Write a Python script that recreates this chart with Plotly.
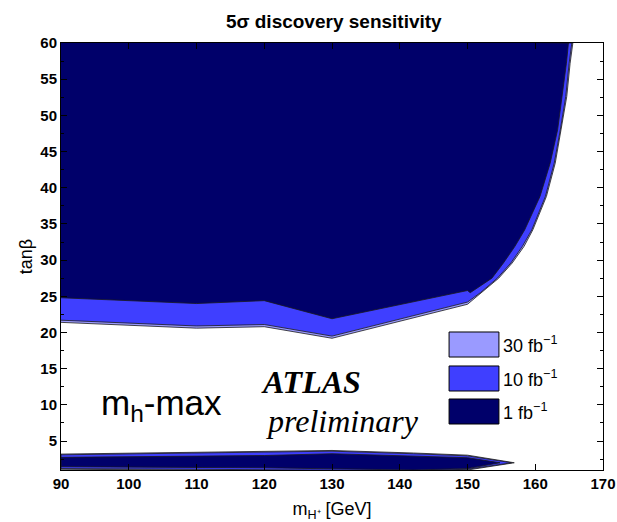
import plotly.graph_objects as go

# Charged Higgs mass nodes [GeV] and tan(beta) contours for each luminosity
# --- high tan(beta) region: lower edge along the mass nodes, then the rising edge to the top
lower_mass = [90, 110, 120, 130, 150]
curve_tanb = [25.5, 27.5, 29.6, 31.9, 34.2, 38.8, 43.4, 48.0, 52.6, 57.2, 60.0]

high_lower_1fb = [24.8, 24.0, 24.4, 21.9, 25.8]
high_curve_1fb = [150.4, 153.6, 155.3, 157.0, 158.45, 160.7, 162.2, 163.3, 164.0, 164.6, 164.9]

high_lower_10fb = [21.7, 20.9, 21.1, 19.5, 24.2]
high_curve_10fb = [151.9, 154.4, 156.4, 158.1, 159.5, 161.5, 162.8, 163.7, 164.5, 165.0, 165.4]

high_lower_30fb = [21.4, 20.6, 20.8, 19.2, 23.9]
high_curve_30fb = [152.1, 154.6, 156.6, 158.35, 159.65, 161.65, 162.95, 163.85, 164.65, 165.15, 165.55]

# --- low tan(beta) strip: upper and lower edges at the mass nodes, closing at a tip
strip_mass = [90, 110, 120, 130, 142, 150]
strip_upper_1fb = [2.75, 2.95, 3.0, 3.25, 2.95, 2.7]
strip_lower_1fb = [1.45, 1.35, 1.3, 1.2, 1.0, 1.2]
strip_tip_1fb = (154.8, 2.0)

strip_upper_10fb = [3.1, 3.3, 3.4, 3.6, 3.25, 2.95]
strip_lower_10fb = [1.2, 1.1, 1.05, 1.0, 0.9, 1.1]
strip_tip_10fb = (156.5, 2.0)

strip_upper_30fb = [3.2, 3.4, 3.5, 3.7, 3.35, 3.05]
strip_lower_30fb = [1.1, 1.0, 0.95, 0.9, 0.8, 1.0]
strip_tip_30fb = (156.9, 2.0)

lumi_labels = ["30 fb<sup>\u22121</sup>", "10 fb<sup>\u22121</sup>", "1 fb<sup>\u22121</sup>"]
lumi_colors = ["#9A9AFF", "#3F3FFF", "#00006A"]

x_range = [90, 170]
y_range = [1, 60]
x_ticks = [90, 100, 110, 120, 130, 140, 150, 160, 170]
y_ticks = [5, 10, 15, 20, 25, 30, 35, 40, 45, 50, 55, 60]

SANS = "Liberation Sans, Arial"
SERIF = "Liberation Serif, Times New Roman"


def high_region(lower, curve):
    xs = list(lower_mass) + list(curve) + [x_range[0] - 1, x_range[0] - 1, lower_mass[0]]
    ys = list(lower) + list(curve_tanb) + [y_range[1] + 1, lower[0], lower[0]]
    return xs, ys


def strip_region(upper, lower, tip):
    xs = list(strip_mass) + [tip[0]] + list(reversed(strip_mass)) + [strip_mass[0]]
    ys = list(upper) + [tip[1]] + list(reversed(lower)) + [upper[0]]
    return xs, ys


fig = go.Figure()

sets = [
    (high_lower_30fb, high_curve_30fb, strip_upper_30fb, strip_lower_30fb, strip_tip_30fb),
    (high_lower_10fb, high_curve_10fb, strip_upper_10fb, strip_lower_10fb, strip_tip_10fb),
    (high_lower_1fb, high_curve_1fb, strip_upper_1fb, strip_lower_1fb, strip_tip_1fb),
]

for (hl, hc, su, sl, st), name, col in zip(sets, lumi_labels, lumi_colors):
    for xs, ys in (high_region(hl, hc), strip_region(su, sl, st)):
        fig.add_trace(go.Scatter(
            x=xs, y=ys, mode="lines", fill="toself", fillcolor=col,
            line=dict(color="#1a1a1a", width=0.8), name=name,
            showlegend=False, hoverinfo="skip",
        ))

# Luminosity key: filled swatches with labels
swatch_y = [(0.2646, 0.3232), (0.1850, 0.2436), (0.1077, 0.1663)]
for (y0, y1), name, col in zip(swatch_y, lumi_labels, lumi_colors):
    fig.add_shape(type="rect", xref="paper", yref="paper",
                  x0=0.716, x1=0.808, y0=y0, y1=y1,
                  fillcolor=col, line=dict(color="black", width=1))
    fig.add_annotation(xref="paper", yref="paper", x=0.812, y=(y0 + y1) / 2,
                       text=name, showarrow=False, xanchor="left", yanchor="middle",
                       font=dict(family=SANS, size=18, color="black"))

fig.add_annotation(xref="paper", yref="paper", x=0.071, y=0.152,
                   text="m<sub>h</sub>-max", showarrow=False,
                   xanchor="left", yanchor="middle",
                   font=dict(family=SANS, size=35, color="black"))
fig.add_annotation(xref="paper", yref="paper", x=0.366, y=0.206,
                   text="<b><i>ATLAS</i></b>", showarrow=False,
                   xanchor="left", yanchor="middle",
                   font=dict(family=SERIF, size=32, color="black"))
fig.add_annotation(xref="paper", yref="paper", x=0.374, y=0.115,
                   text="<i>preliminary</i>", showarrow=False,
                   xanchor="left", yanchor="middle",
                   font=dict(family=SERIF, size=32, color="black"))

axis_common = dict(
    showgrid=False, zeroline=False, showline=True, linecolor="black", linewidth=1,
    mirror="ticks", ticks="inside", tickcolor="black", ticklen=6, automargin=False,
    tickfont=dict(family=SANS, size=15, color="black", weight="bold"),
)

fig.update_layout(
    width=617, height=522,
    margin=dict(l=61, r=14, t=43, b=52, autoexpand=False),
    paper_bgcolor="white", plot_bgcolor="white",
    showlegend=False,
    title=dict(text="5\u03c3 discovery sensitivity", x=0.541, xanchor="center",
               y=0.96, yanchor="middle",
               font=dict(family=SANS, size=19, color="black", weight="bold")),
    xaxis=dict(range=x_range, tickvals=x_ticks, ticklabeloverflow="allow", **axis_common,
               title=dict(text="m<sub>H\u207a</sub> [GeV]", standoff=14,
                          font=dict(family=SANS, size=18, color="black"))),
    yaxis=dict(range=y_range, tickvals=y_ticks, **axis_common,
               minor=dict(dtick=2.5, tick0=0, ticks="inside", ticklen=3, tickcolor="black"),
               title=dict(text="tan\u03b2", standoff=3,
                          font=dict(family=SANS, size=18, color="black"))),
)

fig.write_html("out.html")
